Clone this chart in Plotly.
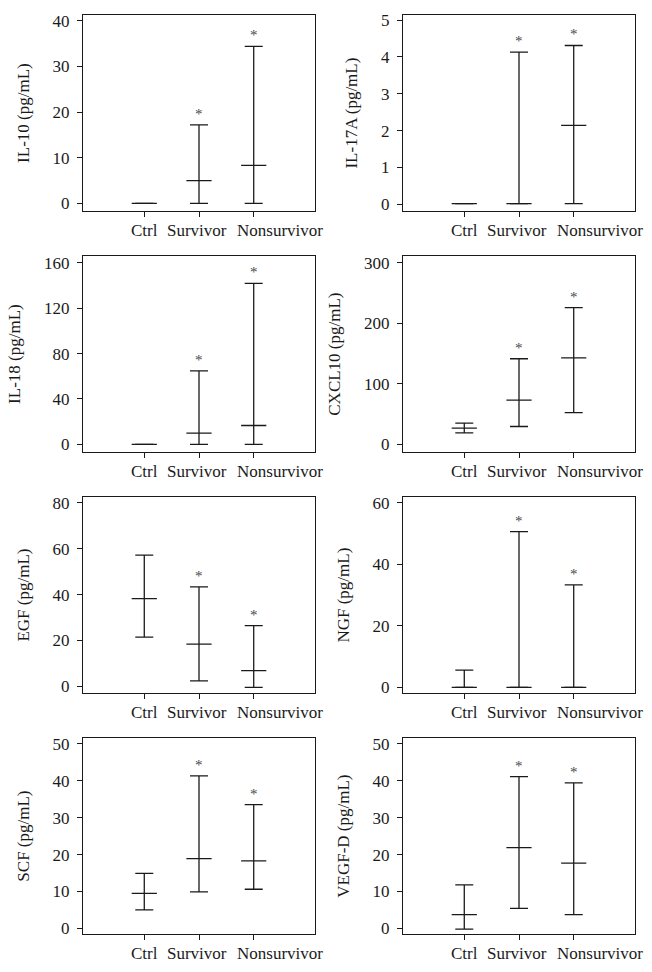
import plotly.graph_objects as go

groups = ["Ctrl", "Survivor", "Nonsurvivor"]
group_x = [1, 2, 3]

titles = ["IL-10 (pg/mL)", "IL-17A (pg/mL)", "IL-18 (pg/mL)", "CXCL10 (pg/mL)",
          "EGF (pg/mL)", "NGF (pg/mL)", "SCF (pg/mL)", "VEGF-D (pg/mL)"]

# per panel: [Ctrl, Survivor, Nonsurvivor]
il10_min = [0, 0, 0];        il10_med = [0, 5.0, 8.3];       il10_max = [0, 17.2, 34.4]
il17a_min = [0.02, 0.02, 0.02]; il17a_med = [0.02, 0.02, 2.14]; il17a_max = [0.02, 4.13, 4.31]
il18_min = [0, 0, 0];        il18_med = [0, 9.9, 16.6];      il18_max = [0, 64.7, 141.9]
cxcl10_min = [19.1, 29.5, 52.5]; cxcl10_med = [26.7, 73.2, 143]; cxcl10_max = [35, 141.5, 226]
egf_min = [21.5, 2.4, -0.4]; egf_med = [38.3, 18.4, 6.9];    egf_max = [57.2, 43.4, 26.5]
ngf_min = [0, 0, 0];         ngf_med = [0, 0, 0];            ngf_max = [5.6, 50.6, 33.3]
scf_min = [5.0, 9.9, 10.6];  scf_med = [9.5, 18.9, 18.3];    scf_max = [14.9, 41.3, 33.5]
vegfd_min = [-0.2, 5.4, 3.7]; vegfd_med = [3.7, 21.9, 17.7]; vegfd_max = [11.8, 41.1, 39.4]

signif = [False, True, True]

y_ticks = [[0, 10, 20, 30, 40], [0, 1, 2, 3, 4, 5], [0, 40, 80, 120, 160], [0, 100, 200, 300],
           [0, 20, 40, 60, 80], [0, 20, 40, 60], [0, 10, 20, 30, 40, 50], [0, 10, 20, 30, 40, 50]]
y_ranges = [[-1.74, 41.3], [-0.19, 5.14], [-7.0, 166.1], [-13.1, 311.5],
            [-3.0, 82.6], [-1.9, 61.9], [-1.6, 51.6], [-1.6, 51.6]]

panels = [(il10_min, il10_med, il10_max), (il17a_min, il17a_med, il17a_max),
          (il18_min, il18_med, il18_max), (cxcl10_min, cxcl10_med, cxcl10_max),
          (egf_min, egf_med, egf_max), (ngf_min, ngf_med, ngf_max),
          (scf_min, scf_med, scf_max), (vegfd_min, vegfd_med, vegfd_max)]

W, H = 652, 972
col_px = [(83, 315), (403, 635)]
row_px = [(11, 209), (254, 452), (497, 695), (740, 938)]
label_shift_px = [0, -2, 26]   # category labels are nudged apart to avoid overlap

ink = "#1a1a1a"
font_family = "Times New Roman, Liberation Serif, serif"
fs = 17

fig = go.Figure()
layout = dict(width=W, height=H, margin=dict(l=0, r=0, t=0, b=0),
              plot_bgcolor="white", paper_bgcolor="white", showlegend=False,
              font=dict(family=font_family, size=fs, color=ink))
annotations = []

for i, (mn, md, mx) in enumerate(panels):
    r, c = divmod(i, 2)
    n = i + 1
    xa = "x" if n == 1 else f"x{n}"
    ya = "y" if n == 1 else f"y{n}"
    fig.add_trace(go.Scatter(
        x=group_x, y=md, xaxis=xa, yaxis=ya, mode="markers",
        marker=dict(symbol="line-ew", size=18, line=dict(width=1.3, color=ink), color=ink),
        error_y=dict(type="data", symmetric=False,
                     array=[a - b for a, b in zip(mx, md)],
                     arrayminus=[b - a for a, b in zip(mn, md)],
                     color=ink, thickness=1.3, width=9),
        hoverinfo="skip"))
    x0, x1 = col_px[c]
    t0, t1 = row_px[r]
    common = dict(showline=True, linecolor=ink, linewidth=1.3, mirror=True,
                  showgrid=False, zeroline=False, ticks="outside", ticklen=5,
                  tickwidth=1.2, tickcolor=ink,
                  tickfont=dict(family=font_family, size=fs, color=ink))
    layout[f"xaxis{n}" if n > 1 else "xaxis"] = dict(
        common, domain=[x0 / W, x1 / W], range=[-0.12, 4.12],
        tickvals=group_x, showticklabels=False, anchor=ya)
    layout[f"yaxis{n}" if n > 1 else "yaxis"] = dict(
        common, domain=[1 - t1 / H, 1 - t0 / H], range=y_ranges[i],
        tickvals=y_ticks[i], anchor=xa, ticklabelstandoff=4,
        title=dict(text=titles[i], standoff=18,
                   font=dict(family=font_family, size=fs, color=ink)))
    for gx, g, sh in zip(group_x, groups, label_shift_px):
        annotations.append(dict(x=gx, y=1 - t1 / H, xref=xa, yref="paper", text=g,
                                showarrow=False, xanchor="center", yanchor="middle",
                                xshift=sh, yshift=-19,
                                font=dict(family=font_family, size=fs, color=ink)))
    for gx, top, s in zip(group_x, mx, signif):
        if s:
            annotations.append(dict(x=gx, y=top, xref=xa, yref=ya, text="*",
                                    showarrow=False, yanchor="bottom", yshift=1,
                                    font=dict(family=font_family, size=15, color="#4a4a4a")))

layout["annotations"] = annotations
fig.update_layout(**layout)
fig.write_html("out.html", config={"displayModeBar": False},
               post_script="document.body.style.margin='0';document.body.style.overflow='hidden';")
